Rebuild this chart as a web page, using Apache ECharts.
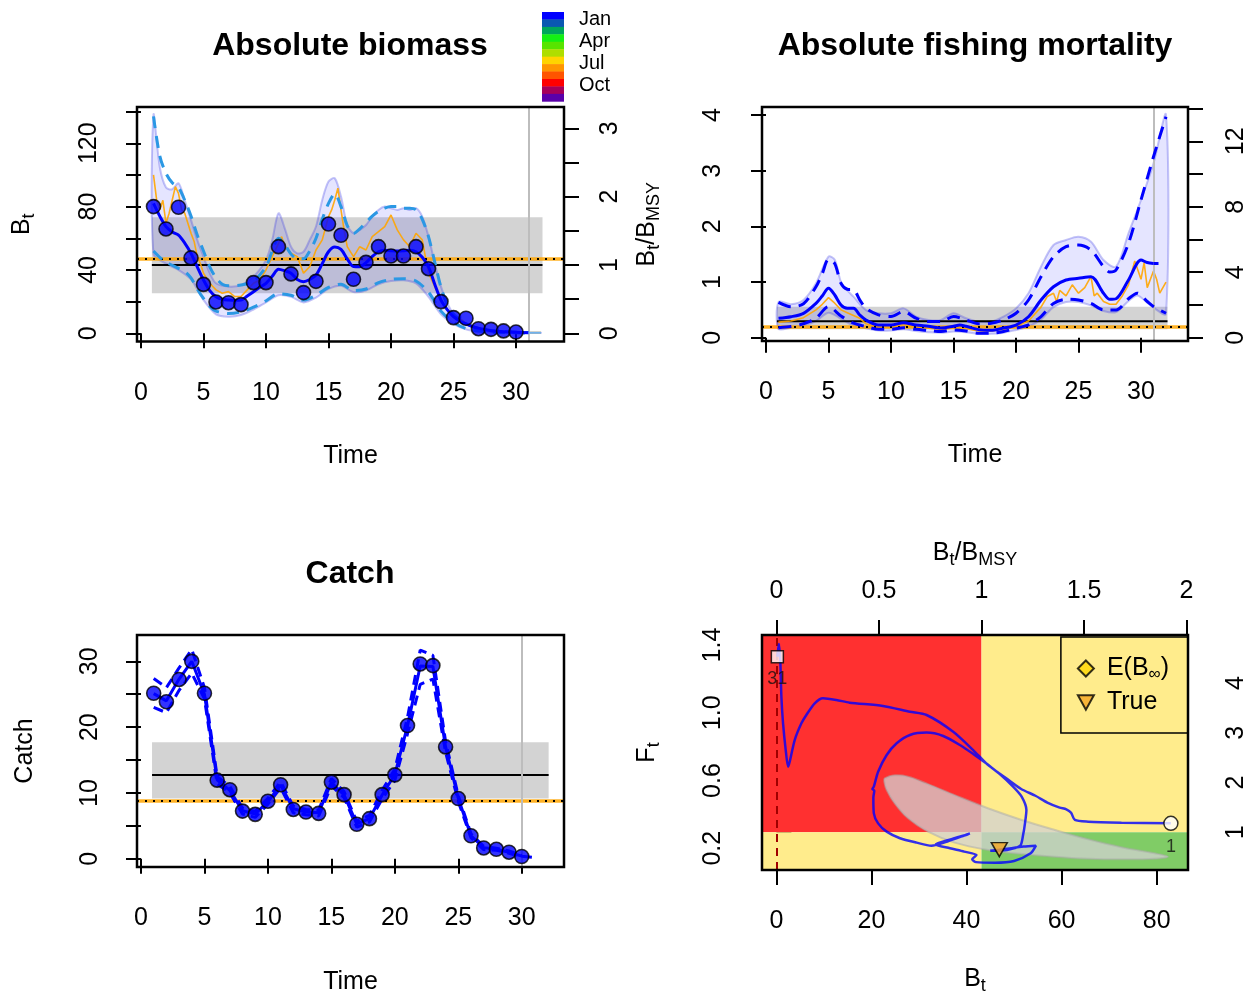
<!DOCTYPE html>
<html>
<head>
<meta charset="utf-8">
<script src="https://cdn.jsdelivr.net/npm/echarts@6/dist/echarts.min.js"></script>
<style>
html,body{margin:0;padding:0;background:#fff;}
#chart{width:1260px;height:996px;}
</style>
</head>
<body>
<div id="chart"></div>
<script>
const FONT = "'Liberation Sans', Arial, Helvetica, sans-serif";

// ---------- reference points ----------
const B_MSY = 43.15;         // estimated B_MSY
const F_MSY = 0.294;         // estimated F_MSY
const C_MSY = 12.75;         // estimated MSY
const B_MSY_TRUE = 46.9;
const F_MSY_TRUE = 0.192;
const MSY_TRUE = 8.85;
const B_MSY_CI = [25.3, 73.3];
const F_MSY_CI = [0.151, 0.557];
const MSY_CI = [9.15, 17.7];
const REF_SPAN = [0.87, 32.12];   // time span of the reference-point bands
const LAST_OBS_TIME = 31;
const LAST_CATCH_TIME = 30;

// ---------- tick positions / labels ----------
const timeTicks = [0, 5, 10, 15, 20, 25, 30];
const bTicks = [0, 20, 40, 60, 80, 100, 120, 140];
const bLabels = [0, 40, 80, 120];
const bRelTicks = [0, 0.5, 1, 1.5, 2, 2.5, 3];
const bRelLabels = [0, 1, 2, 3];
const fTicks = [0, 1, 2, 3, 4];
const fRelTicks = [0, 2, 4, 6, 8, 10, 12, 14];
const fRelLabels = [0, 4, 8, 12];
const cTicks = [0, 5, 10, 15, 20, 25, 30];
const cLabels = [0, 10, 20, 30];
const kobeBTicks = [0, 20, 40, 60, 80];
const kobeBRelTicks = [0, 0.5, 1, 1.5, 2];
const kobeFTicks = [0.2, 0.4, 0.6, 0.8, 1.0, 1.2, 1.4];
const kobeFLabels = [0.2, 0.6, 1.0, 1.4];
const kobeFRelTicks = [1, 2, 3, 4];

const months = ['Jan', 'Apr', 'Jul', 'Oct'];
const seasonColors = ['#0000ff', '#0a58b2', '#00a65c', '#14f014', '#58e400', '#aede00',
                      '#ffd400', '#ff9600', '#ff5400', '#ff0000', '#a6005a', '#5a00aa'];

// ---------- biomass ----------
const biomassObs = [80.0, 65.9, 79.6, 47.6, 30.9, 19.8, 19.3, 18.1, 32.0, 32.0,
                    54.7, 37.5, 25.7, 32.8, 69.0, 61.9, 34.1, 44.8, 54.7, 48.8,
                    48.8, 54.7, 40.8, 20.0, 9.9, 9.5, 2.9, 2.5, 1.5, 0.8];
const biomassEst = [[1,82],[1.5,74],[2,67.4],[2.5,64],[3,62],[3.5,57],[4,50.5],[4.5,42],[5,33.7],[5.5,27],
  [6,23.1],[6.5,21.5],[7,21],[7.5,20.8],[8,21],[8.5,23.5],[9,26.3],[9.5,29],[10,31.6],[10.5,36],
  [11,40.5],[11.5,39.5],[12,37.9],[12.5,34],[13,32.6],[13.5,34],[14,36.8],[14.5,44],[15,51.5],[15.5,54.5],
  [16,53],[16.5,47],[17,42.1],[17.5,42],[18,44.6],[18.5,48.5],[19,51.5],[19.5,52.4],[20,52.2],[20.5,52],
  [21,52.2],[21.5,52.5],[22,51.5],[22.5,48],[23,42],[23.5,31],[24,21],[24.5,15],[25,10.5],[25.5,7.8],
  [26,5.9],[26.5,4.3],[27,3.2],[28,1.6],[29,1.0],[30,0.6],[31,0.4]];
const biomassForecast = [[31,0.4],[32,0.3]];
const biomassUpper = [[1,137],[1.5,112],[2,101],[2.5,95],[3,92],[3.5,84],[4,74],[4.5,62],[5,52],[5.5,42],
  [6,35],[6.5,31],[7,30],[8,30.5],[9,33],[10,42],[10.5,52],[11,60],[11.5,56],[12,50],[12.5,47],[13,47],
  [13.5,52],[14,60],[14.5,72],[15,82],[15.5,88],[16,80],[16.5,68],[17,63],[17.5,66],[18,70],[18.5,74],
  [19,77],[19.5,79],[20,80],[20.5,80],[21,79],[21.5,79],[22,78],[22.5,72],[23,61],[23.5,45],[24,29],
  [24.5,18],[25,12],[26,6],[27,3.2],[28,1.8],[29,1.2],[30,0.7],[31,0.5]];
const biomassLower = [[1,52],[1.5,48],[2,45],[3,41],[3.5,39],[4,35],[4.5,28],[5,22],[5.5,17],[6,14],
  [7,12.5],[8,13.5],[9,16.5],[10,20.5],[11,25],[12,24],[13,21],[14,24],[15,29],[16,31],[17,27],[18,28],
  [19,32],[20,34],[21,34.5],[22,33],[23,26],[24,14],[25,7],[26,3],[27,1.4],[28,0.8],[29,0.5],[30,0.3],[31,0.2]];
const biomassBandUpper = [[1,138],[1.5,105],[2,92],[2.5,91],[3,94.7],[3.5,84],[4,71.6],[4.5,59],[5,48.4],
  [5.5,38],[6,31.6],[7,29.5],[8,30.5],[9,35.8],[10,46.3],[10.5,59],[11,75.8],[11.5,66.3],[12,54.7],
  [12.5,50.5],[13,51.5],[13.5,59],[14,67.4],[14.5,84.2],[15,95.8],[15.5,97.9],[16,86.3],[16.5,68.4],
  [17,63.2],[17.5,65.3],[18,68.4],[18.5,73.7],[19,77.9],[19.5,80],[20,79],[20.5,77.9],[21,79],[21.5,77.9],
  [22,79],[22.5,73.7],[23,61.1],[23.5,44.2],[24,29.5],[24.5,19],[25,12.6],[26,6.3],[27,3.2],[28,1.7],
  [29,1.1],[30,0.6],[31,0.4],[32,0.4]];
const biomassBandLower = [[1,50],[2,44],[3,40],[4,34],[5,21],[6,12],[7,10.5],[8,11.5],[9,15],[10,19.5],
  [11,24],[12,23],[13,19.5],[14,22.5],[15,28],[16,30],[17,26],[18,27],[19,31],[20,33],[21,33.5],[22,31.5],
  [23,23],[24,12],[25,6],[26,2.5],[27,1],[28,0.6],[29,0.4],[30,0.25],[31,0.2],[32,0.2]];
const biomassTrue = [[1,100],[1.25,84.2],[1.5,78],[1.75,84],[2,69.5],[2.25,75.8],[2.5,84.2],[2.75,92.6],
  [3,88.4],[3.25,78],[3.5,75.8],[3.75,69.5],[4,63.2],[4.25,58],[4.5,48.4],[4.75,44],[5,37.9],[5.5,31.6],
  [6,27.4],[6.5,25.3],[7,26.3],[7.5,23.2],[8,23.2],[8.5,27.4],[9,31.6],[9.5,33.7],[10,40],[10.5,48.4],
  [11,56.8],[11.25,61],[11.5,55],[12,50.5],[12.5,48.4],[13,38],[13.5,42.1],[14,52.6],[14.5,59],[15,73.7],
  [15.25,77.9],[15.5,84.2],[15.75,91.6],[16,77.9],[16.25,65],[16.5,54.7],[17,48.4],[17.5,54.7],[18,52.6],
  [18.5,61.1],[19,64.2],[19.5,67.4],[20,74.7],[20.5,65.3],[21,59],[21.5,54.7],[22,63.2],[22.5,59],
  [23,37.9],[23.5,29.5],[24,21],[24.5,14.7],[25,11.6],[25.5,9.5],[26,6.3],[27,3.2],[28,1.7],[29,1.1],
  [30,0.6],[31,0.4],[32,0.4]];

// ---------- fishing mortality ----------
const fishingEst = [[1,0.348],[2,0.377],[3,0.438],[4,0.618],[4.5,0.75],[5,0.887],[5.5,0.767],[6,0.587],
  [6.5,0.527],[7,0.527],[7.5,0.408],[8,0.318],[9,0.228],[10,0.228],[11,0.27],[12,0.228],[13,0.205],
  [14,0.174],[15,0.205],[15.5,0.228],[16,0.205],[17,0.145],[18,0.133],[19,0.174],[20,0.228],[21,0.377],
  [22,0.677],[23,0.916],[24,1.036],[25,1.067],[26,1.096],[27,0.8],[27.5,0.69],[28,0.7],[29,1.036],
  [30,1.395],[30.5,1.35],[31,1.335]];
const fishingForecast = [[31,1.335],[31.8,1.335]];
const fishingUpper = [[1,0.636],[2,0.557],[3,0.61],[4,0.916],[4.5,1.15],[5,1.408],[5.5,1.33],[6,0.977],
  [6.5,0.87],[7,0.86],[7.5,0.68],[8,0.527],[9,0.41],[10,0.38],[11,0.47],[12,0.35],[13,0.29],[14,0.29],
  [15,0.38],[16,0.32],[17,0.25],[18,0.26],[19,0.32],[20,0.44],[21,0.677],[22,1.096],[23,1.455],[24,1.635],
  [25,1.665],[26,1.575],[27,1.276],[27.5,1.18],[28,1.216],[29,1.696],[30,2.474],[31,3.25],[32,3.97]];
const fishingLower = [[1,0.18],[2,0.2],[3,0.25],[4,0.35],[5,0.557],[6,0.39],[7,0.26],[8,0.2],[9,0.15],
  [10,0.15],[11,0.18],[12,0.15],[13,0.13],[14,0.11],[15,0.14],[16,0.12],[17,0.08],[18,0.08],[19,0.11],
  [20,0.17],[21,0.23],[22,0.38],[23,0.616],[24,0.69],[25,0.677],[26,0.616],[27,0.5],[28,0.5],[29,0.7],
  [29.7,0.8],[30.5,0.65],[31,0.56],[32,0.44]];
const fishingBandUpper = [[1,0.64],[2,0.6],[3,0.677],[4,0.977],[5,1.455],[5.5,1.4],[6,1.0],[6.5,0.85],
  [7,0.737],[8,0.497],[9,0.44],[10,0.44],[11,0.527],[12,0.38],[13,0.32],[14,0.32],[15,0.44],[16,0.35],
  [17,0.29],[18,0.29],[19,0.38],[20,0.527],[21,0.8],[22,1.276],[23,1.665],[24,1.755],[25,1.815],[26,1.725],
  [27,1.395],[28,1.276],[29,1.875],[30,2.474],[31,3.13],[32,4.0]];
const fishingBandLower = [[1,0.16],[2,0.18],[3,0.22],[4,0.3],[5,0.45],[6,0.34],[7,0.22],[8,0.17],[9,0.13],
  [10,0.13],[11,0.15],[12,0.12],[13,0.1],[14,0.09],[15,0.11],[16,0.1],[17,0.07],[18,0.07],[19,0.09],
  [20,0.14],[21,0.2],[22,0.33],[23,0.55],[24,0.64],[25,0.64],[26,0.58],[27,0.48],[28,0.46],[29,0.66],
  [29.7,0.76],[30.5,0.63],[31,0.54],[32,0.43]];
const fishingTrue = [[1,0.28],[2,0.3],[3,0.36],[4,0.5],[4.5,0.6],[5,0.72],[5.5,0.62],[6,0.5],[6.5,0.45],
  [7,0.4],[7.5,0.35],[8,0.25],[9,0.19],[10,0.19],[11,0.24],[12,0.19],[13,0.17],[14,0.15],[15,0.17],
  [16,0.16],[17,0.12],[18,0.12],[19,0.15],[20,0.2],[21,0.3],[22,0.55],[22.5,0.74],[23,0.8],[23.25,0.65],
  [23.5,0.85],[24,0.75],[24.5,0.95],[25,0.8],[25.5,0.9],[26,1.1],[26.25,0.75],[26.5,0.8],[27,0.65],
  [27.5,0.6],[28,0.6],[28.5,0.75],[29,0.95],[29.5,1.38],[30,1.05],[30.25,1.35],[30.5,0.9],[31,1.2],
  [31.25,1.05],[31.5,0.8],[32,1.0]];

// ---------- catch ----------
const catchObs = [25.15, 23.85, 27.25, 30.0, 25.15, 11.95, 10.5, 7.25, 6.75, 8.75,
                  11.25, 7.5, 7.1, 6.9, 11.65, 9.75, 5.25, 6.1, 9.75, 12.75,
                  20.25, 29.6, 29.35, 17.0, 9.15, 3.5, 1.65, 1.45, 1.0, 0.35];
const catchEst = [[1,25.1],[2,24.0],[3,27.3],[4,30.0],[5,25.0],[6,12.0],[7,10.4],[8,7.3],[9,6.8],[10,8.7],
  [11,11.2],[12,7.6],[13,7.1],[14,7.0],[15,11.6],[16,9.7],[17,5.3],[18,6.1],[19,9.7],[20,12.8],[21,20.2],
  [22,29.3],[23,29.2],[24,17.0],[25,9.2],[26,3.5],[27,1.7],[28,1.45],[29,1.0],[30,0.4],[30.8,0.25]];
const catchUpper = [[1,27.4],[2,26.0],[3,29.0],[4,31.8],[5,26.0],[6,12.5],[7,11.0],[8,7.7],[9,7.2],[10,9.2],
  [11,11.7],[12,8.0],[13,7.5],[14,7.4],[15,12.2],[16,10.2],[17,5.7],[18,6.6],[19,10.4],[20,13.6],[21,21.5],
  [22,31.7],[23,30.9],[24,17.8],[25,9.6],[26,3.8],[27,1.9],[28,1.6],[29,1.2],[30,0.5]];
const catchLower = [[1,23.0],[2,22.2],[3,25.6],[4,28.2],[5,24.3],[6,11.4],[7,10.0],[8,6.8],[9,6.3],[10,8.3],
  [11,10.8],[12,7.0],[13,6.7],[14,6.5],[15,11.1],[16,9.3],[17,4.8],[18,5.6],[19,9.1],[20,11.9],[21,19.0],
  [22,26.5],[23,27.3],[24,16.2],[25,8.7],[26,3.2],[27,1.4],[28,1.3],[29,0.85],[30,0.25]];

// ---------- phase plot: (B_t, F_t) trajectory ----------
const kobeTrajectory = [[83.0,0.347],[72.6,0.351],[65.6,0.357],[62.8,0.367],[62.0,0.41],[61.0,0.43],
  [59.6,0.44],[57,0.47],[54.5,0.51],[51.5,0.55],[49,0.6],[46.5,0.65],[44.2,0.70],[41.4,0.757],[38.6,0.81],
  [35.1,0.863],[31.6,0.883],[28.1,0.869],[25.3,0.82],[23.2,0.751],[21.4,0.652],[20.5,0.564],[20.2,0.55],
  [20.6,0.54],[20.4,0.50],[20.5,0.406],[21.4,0.347],[23.2,0.298],[26.0,0.259],[29.5,0.233],[32.6,0.215],
  [36,0.24],[39.5,0.275],[40.7,0.288],[40.3,0.283],[37,0.255],[33.5,0.222],[36.5,0.2],[39.5,0.18],[42.1,0.16],
  [41.2,0.135],[42,0.118],[46,0.115],[50,0.125],[53.5,0.17],[54.6,0.215],[52,0.21],[48,0.195],[45,0.185],
  [48.5,0.19],[51.3,0.215],[51.9,0.278],[52.3,0.347],[52.6,0.426],[51.6,0.505],[49.8,0.564],[47,0.638],
  [44.2,0.70],[41.4,0.78],[37.2,0.888],[31.6,0.987],[28.1,1.006],[22.4,1.04],[15.4,1.06],[12.6,1.076],
  [9.8,1.086],[8.06,1.056],[6.3,0.987],[5.26,0.938],[3.85,0.839],[2.8,0.711],[2.45,0.682],[1.96,0.78],
  [1.4,0.938],[1.05,1.095],[0.84,1.292],[0.55,1.406],[0.4,1.38],[0.2,1.331]];
const kobeFirstYear = '1';
const kobeLastYear = '31';
const msyRegion = [[22.8,0.613],[24.9,0.631],[27.7,0.623],[31.9,0.579],[37.5,0.514],[44.5,0.436],
  [51.6,0.367],[58.6,0.308],[65.6,0.253],[72.6,0.206],[79.6,0.170],[82.4,0.15],[79.6,0.138],[72.6,0.135],
  [65.6,0.138],[58.6,0.15],[51.6,0.166],[44.5,0.19],[37.5,0.233],[31.9,0.298],[27.7,0.377],[24.9,0.465],
  [23.2,0.544],[22.7,0.593]];

// ---------- axis extents (panel plotting regions) ----------
const TL_X = [-0.32, 33.84], TL_Y = [-5.18, 142.9];
const TR_X = [-0.32, 33.76], TR_Y = [-0.059, 4.144];
const BL_X = [-0.315, 33.33], BL_Y = [-1.245, 34.0];
const BR_X = [-3.03, 86.6], BR_Y = [0.0715, 1.4595];

// ---------- styling helpers ----------
const BLUE = '#0000ff';
const LIGHTBLUE = '#2b98e4';
const ORANGE = 'rgba(255,165,0,0.9)';
const RICH = {
  b: { fontSize: 25, fontFamily: FONT, color: '#000' },
  s: { fontSize: 18, fontFamily: FONT, color: '#000', padding: [14, 0, 0, 0] }
};

function axis(o) {
  return {
    type: 'value', gridIndex: o.grid, position: o.position, min: o.min, max: o.max,
    axisLine: { show: false },
    splitLine: { show: false },
    axisTick: { show: true, customValues: o.ticks, length: 15, lineStyle: { color: '#000', width: 2 } },
    axisLabel: {
      show: true, customValues: o.labels || o.ticks, margin: o.margin || 35, rotate: o.rotate || 0,
      fontSize: 25, fontFamily: FONT, color: '#000',
      formatter: o.fmt || (v => String(v))
    },
    name: o.name || '', nameLocation: 'middle', nameGap: o.nameGap || 0,
    nameTextStyle: { fontSize: 25, fontFamily: FONT, color: '#000', rich: RICH }
  };
}

function lineSeries(xi, yi, data, color, width, extra) {
  extra = extra || {};
  return {
    type: 'line', xAxisIndex: xi, yAxisIndex: yi, data: data,
    symbol: 'none', showSymbol: false, silent: true, animation: false,
    smooth: extra.smooth || false,
    lineStyle: { color: color, width: width, type: extra.dash || 'solid', cap: 'butt' },
    z: extra.z || 5
  };
}

function polygonSeries(xi, yi, pts, style, z, smooth) {
  return {
    type: 'custom', xAxisIndex: xi, yAxisIndex: yi, data: [[0, 0]], silent: true, animation: false, z: z,
    renderItem: function (params, api) {
      return { type: 'polygon', shape: { points: pts.map(p => api.coord(p)), smooth: smooth || 0 }, style: style };
    }
  };
}

function bandPoints(upper, lower) {
  return upper.concat(lower.slice().reverse());
}

function rectPoints(xr, yr) {
  return [[xr[0], yr[0]], [xr[1], yr[0]], [xr[1], yr[1]], [xr[0], yr[1]]];
}

function frameSeries(xi, yi) {
  return {
    type: 'custom', xAxisIndex: xi, yAxisIndex: yi, data: [[0, 0]], silent: true, animation: false, z: 30,
    renderItem: function (params) {
      const c = params.coordSys;
      return { type: 'rect', shape: { x: c.x, y: c.y, width: c.width, height: c.height },
               style: { fill: null, stroke: '#000', lineWidth: 2.5 } };
    }
  };
}

function refLines(xi, yi, items, z) {
  return {
    type: 'line', xAxisIndex: xi, yAxisIndex: yi, data: [], silent: true, animation: false, z: z || 4,
    markLine: { silent: true, symbol: 'none', animation: false, label: { show: false }, data: items }
  };
}

// the orange "true" level with black dots over it
function trueLevel(value) {
  return [
    { yAxis: value, lineStyle: { color: 'rgba(255,165,0,0.85)', width: 3.5, type: 'solid' } },
    { yAxis: value, lineStyle: { color: '#000', width: 2, type: [2, 6] } }
  ];
}

const series = [];

// ===== Absolute biomass (grid 0: x0, y0) =====
series.push(polygonSeries(0, 0, rectPoints(REF_SPAN, B_MSY_CI), { fill: '#d3d3d3' }, 1));
series.push(polygonSeries(0, 0, bandPoints(biomassBandUpper, biomassBandLower),
  { fill: 'rgba(0,0,255,0.1)', stroke: 'rgba(60,60,230,0.3)', lineWidth: 2 }, 2, 0.3));
series.push(lineSeries(0, 0, [[REF_SPAN[0], B_MSY], [REF_SPAN[1], B_MSY]], '#000', 2, { z: 3 }));
series.push(refLines(0, 0, trueLevel(B_MSY_TRUE).concat([
  { xAxis: LAST_OBS_TIME, lineStyle: { color: '#bdbdbd', width: 2, type: 'solid' } }]), 3));
series.push(lineSeries(0, 0, biomassTrue, ORANGE, 1.6, { z: 4 }));
series.push(lineSeries(0, 0, biomassUpper, LIGHTBLUE, 3, { dash: [12, 8], smooth: 0.3, z: 5 }));
series.push(lineSeries(0, 0, biomassLower, LIGHTBLUE, 3, { dash: [12, 8], smooth: 0.3, z: 5 }));
series.push(lineSeries(0, 0, biomassEst, BLUE, 3, { smooth: 0.3, z: 6 }));
series.push(lineSeries(0, 0, biomassForecast, '#6fb2ee', 2, { z: 6 }));
series.push({
  type: 'scatter', xAxisIndex: 0, yAxisIndex: 0, silent: true, animation: false, z: 7,
  data: biomassObs.map((v, i) => [i + 1, v]), symbolSize: 14,
  itemStyle: { color: BLUE, borderColor: '#000', borderWidth: 1.6 }
});
series.push(frameSeries(0, 0));

// ===== Absolute fishing mortality (grid 1: x1, y2) =====
series.push(polygonSeries(1, 2, rectPoints(REF_SPAN, F_MSY_CI), { fill: '#d3d3d3' }, 1));
series.push(polygonSeries(1, 2, bandPoints(fishingBandUpper, fishingBandLower),
  { fill: 'rgba(0,0,255,0.1)', stroke: 'rgba(60,60,230,0.3)', lineWidth: 2 }, 2, 0.3));
series.push(lineSeries(1, 2, [[REF_SPAN[0], F_MSY], [REF_SPAN[1], F_MSY]], '#000', 2, { z: 3 }));
series.push(refLines(1, 2, trueLevel(F_MSY_TRUE).concat([
  { xAxis: LAST_OBS_TIME, lineStyle: { color: '#bdbdbd', width: 2, type: 'solid' } }]), 3));
series.push(lineSeries(1, 2, fishingTrue, ORANGE, 1.6, { z: 4 }));
series.push(lineSeries(1, 2, fishingUpper, BLUE, 3, { dash: [13, 8], smooth: 0.3, z: 5 }));
series.push(lineSeries(1, 2, fishingLower, BLUE, 3, { dash: [13, 8], smooth: 0.3, z: 5 }));
series.push(lineSeries(1, 2, fishingEst, BLUE, 3, { smooth: 0.3, z: 6 }));
series.push(lineSeries(1, 2, fishingForecast, BLUE, 3, { dash: [5, 7], z: 6 }));
series.push(frameSeries(1, 2));

// ===== Catch (grid 2: x2, y4) =====
series.push(polygonSeries(2, 4, rectPoints(REF_SPAN, MSY_CI), { fill: '#d3d3d3' }, 1));
series.push(lineSeries(2, 4, [[REF_SPAN[0], C_MSY], [REF_SPAN[1], C_MSY]], '#000', 2, { z: 3 }));
series.push(refLines(2, 4, trueLevel(MSY_TRUE).concat([
  { xAxis: LAST_CATCH_TIME, lineStyle: { color: '#bdbdbd', width: 2, type: 'solid' } }]), 3));
series.push(lineSeries(2, 4, catchUpper, BLUE, 3, { dash: [10, 6], z: 5 }));
series.push(lineSeries(2, 4, catchLower, BLUE, 3, { dash: [10, 6], z: 5 }));
series.push(lineSeries(2, 4, catchEst, BLUE, 3, { z: 6 }));
series.push({
  type: 'scatter', xAxisIndex: 2, yAxisIndex: 4, silent: true, animation: false, z: 7,
  data: catchObs.map((v, i) => [i + 1, v]), symbolSize: 14,
  itemStyle: { color: BLUE, borderColor: '#000', borderWidth: 1.6 }
});
series.push(frameSeries(2, 4));

// ===== Phase plot (grid 3: x3, y5) =====
series.push({
  type: 'custom', xAxisIndex: 3, yAxisIndex: 5, data: [[0, 0]], silent: true, animation: false, z: 1,
  renderItem: function (params, api) {
    const c = params.coordSys;
    const p = api.coord([B_MSY, F_MSY]);
    const x0 = c.x, y0 = c.y, x1 = c.x + c.width, y1 = c.y + c.height;
    return {
      type: 'group', children: [
        { type: 'rect', shape: { x: x0, y: y0, width: p[0] - x0, height: p[1] - y0 }, style: { fill: '#ff3030' } },
        { type: 'rect', shape: { x: p[0], y: y0, width: x1 - p[0], height: p[1] - y0 }, style: { fill: '#ffec8c' } },
        { type: 'rect', shape: { x: x0, y: p[1], width: p[0] - x0, height: y1 - p[1] }, style: { fill: '#ffec8c' } },
        { type: 'rect', shape: { x: p[0], y: p[1], width: x1 - p[0], height: y1 - p[1] }, style: { fill: '#80cc66' } }
      ]
    };
  }
});
series.push(refLines(3, 5, [{ xAxis: 0, lineStyle: { color: '#a00000', width: 2, type: [8, 6] } }], 2));
series.push(polygonSeries(3, 5, msyRegion,
  { fill: 'rgba(210,210,210,0.75)', stroke: 'rgba(170,170,170,0.5)', lineWidth: 2 }, 3, 0.35));
series.push(lineSeries(3, 5, kobeTrajectory, 'rgba(0,0,255,0.8)', 2.5, { smooth: 0.25, z: 5 }));
series.push({
  name: 'E(B∞)', type: 'scatter', xAxisIndex: 3, yAxisIndex: 5, data: [], symbol: 'diamond', symbolSize: 16,
  itemStyle: { color: '#ffd700', borderColor: '#000', borderWidth: 1.5 }
});
series.push({
  name: 'True', type: 'scatter', xAxisIndex: 3, yAxisIndex: 5, silent: true, animation: false, z: 7,
  data: [[B_MSY_TRUE, F_MSY_TRUE]], symbol: 'triangle', symbolRotate: 180, symbolSize: [16, 14],
  itemStyle: { color: '#f5a623', borderColor: '#000', borderWidth: 1.5 }
});
series.push({
  type: 'scatter', xAxisIndex: 3, yAxisIndex: 5, silent: true, animation: false, z: 8,
  data: [
    { value: kobeTrajectory[0], symbol: 'circle', symbolSize: 14, label: { formatter: kobeFirstYear } },
    { value: kobeTrajectory[kobeTrajectory.length - 1], symbol: 'rect', symbolSize: 12, label: { formatter: kobeLastYear } }
  ],
  itemStyle: { color: '#fff', borderColor: '#000', borderWidth: 1.5 },
  label: { show: true, position: 'bottom', distance: 7, fontSize: 18, fontFamily: FONT, color: '#111' }
});
series.push(frameSeries(3, 5));

// ---------- season colour key ----------
const keyGraphics = [];
const keyTop = 12, keyH = 89.3 / seasonColors.length;
seasonColors.forEach((c, i) => keyGraphics.push({
  type: 'rect', left: 542, top: keyTop + i * keyH, silent: true,
  shape: { width: 22, height: keyH + 0.4 }, style: { fill: c }
}));
months.forEach((m, i) => keyGraphics.push({
  type: 'text', left: 579, top: 9 + i * 22, silent: true,
  style: { text: m, fontSize: 20, fontFamily: FONT, fill: '#000' }
}));

const titleStyle = { fontSize: 32, fontWeight: 'bold', fontFamily: FONT, color: '#000' };

const option = {
  backgroundColor: '#ffffff',
  animation: false,
  title: [
    { text: 'Absolute biomass', left: 350, top: 30, textAlign: 'center', padding: 0, textStyle: titleStyle },
    { text: 'Absolute fishing mortality', left: 975, top: 30, textAlign: 'center', padding: 0, textStyle: titleStyle },
    { text: 'Catch', left: 350, top: 558, textAlign: 'center', padding: 0, textStyle: titleStyle }
  ],
  legend: {
    data: [
      { name: 'E(B∞)' },
      { name: 'True', icon: 'path://M0,0L10,0L5,9Z' }
    ],
    orient: 'vertical', right: 72, top: 637,
    padding: [19, 19, 18, 16], itemGap: 7, itemWidth: 16, itemHeight: 16,
    borderColor: '#000', borderWidth: 1.5, borderRadius: 0, backgroundColor: 'transparent',
    selectedMode: false,
    formatter: function (name) {
      return name === 'E(B∞)' ? '{n|E(B}{s|∞}{n|)}' : '{n|True}';
    },
    textStyle: {
      fontSize: 25, fontFamily: FONT, color: '#000', padding: [0, 0, 0, 8],
      rich: {
        n: { fontSize: 25, fontFamily: FONT, color: '#000' },
        s: { fontSize: 17, fontFamily: FONT, color: '#000', padding: [12, 0, 0, 0] }
      }
    }
  },
  graphic: keyGraphics,
  grid: [
    { left: 137, top: 107, width: 427, height: 234.5, show: false },
    { left: 762, top: 107, width: 426, height: 234, show: false },
    { left: 137, top: 635, width: 427, height: 235, show: false },
    { left: 762, top: 635, width: 426, height: 235, show: false }
  ],
  xAxis: [
    axis({ grid: 0, position: 'bottom', min: TL_X[0], max: TL_X[1], ticks: timeTicks, margin: 39, name: 'Time', nameGap: 102 }),
    axis({ grid: 1, position: 'bottom', min: TR_X[0], max: TR_X[1], ticks: timeTicks, margin: 39, name: 'Time', nameGap: 102 }),
    axis({ grid: 2, position: 'bottom', min: BL_X[0], max: BL_X[1], ticks: timeTicks, margin: 39, name: 'Time', nameGap: 103 }),
    axis({ grid: 3, position: 'bottom', min: BR_X[0], max: BR_X[1], ticks: kobeBTicks, margin: 39,
           name: '{b|B}{s|t}', nameGap: 93 }),
    axis({ grid: 3, position: 'top', min: BR_X[0] / B_MSY, max: BR_X[1] / B_MSY, ticks: kobeBRelTicks, margin: 31,
           name: '{b|B}{s|t}{b|/B}{s|MSY}', nameGap: 66 })
  ],
  yAxis: [
    axis({ grid: 0, position: 'left', min: TL_Y[0], max: TL_Y[1], ticks: bTicks, labels: bLabels, rotate: 90, margin: 35,
           name: '{b|B}{s|t}', nameGap: 99 }),
    axis({ grid: 0, position: 'right', min: TL_Y[0] / B_MSY, max: TL_Y[1] / B_MSY, ticks: bRelTicks, labels: bRelLabels,
           rotate: 90, margin: 34, name: '{b|B}{s|t}{b|/B}{s|MSY}', nameGap: 67 }),
    axis({ grid: 1, position: 'left', min: TR_Y[0], max: TR_Y[1], ticks: fTicks, rotate: 90, margin: 36 }),
    axis({ grid: 1, position: 'right', min: TR_Y[0] / F_MSY, max: TR_Y[1] / F_MSY, ticks: fRelTicks, labels: fRelLabels,
           rotate: 90, margin: 36 }),
    axis({ grid: 2, position: 'left', min: BL_Y[0], max: BL_Y[1], ticks: cTicks, labels: cLabels, rotate: 90, margin: 34,
           name: 'Catch', nameGap: 99 }),
    axis({ grid: 3, position: 'left', min: BR_Y[0], max: BR_Y[1], ticks: kobeFTicks, labels: kobeFLabels, rotate: 90,
           margin: 36, fmt: v => v.toFixed(1), name: '{b|F}{s|t}', nameGap: 99 }),
    axis({ grid: 3, position: 'right', min: BR_Y[0] / F_MSY, max: BR_Y[1] / F_MSY, ticks: kobeFRelTicks, rotate: 90,
           margin: 36 })
  ],
  series: series
};

const chart = echarts.init(document.getElementById('chart'), null, { renderer: 'canvas' });
chart.setOption(option);
</script>
</body>
</html>
